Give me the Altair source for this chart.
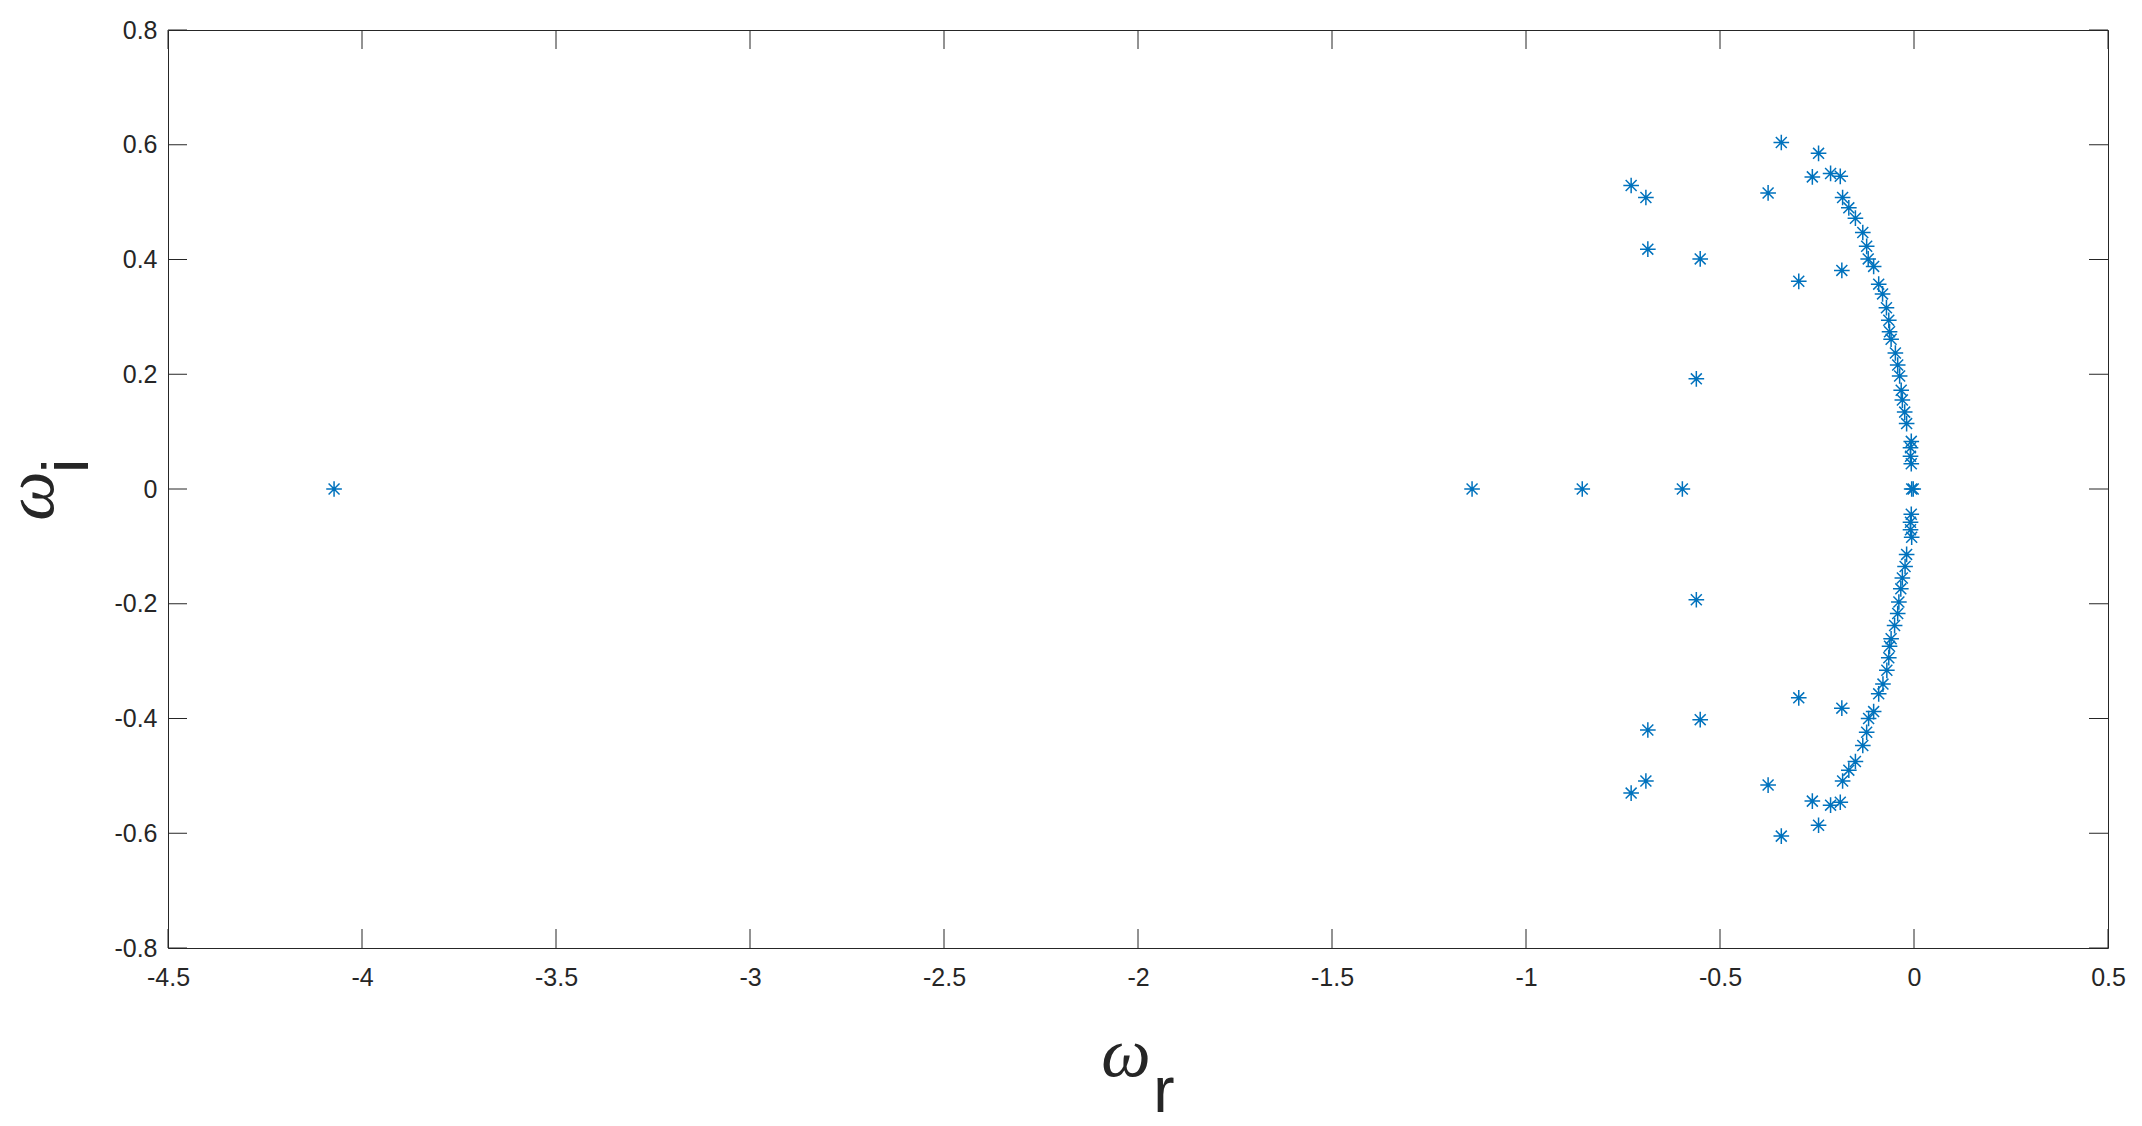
import altair as alt
import pandas as pd

wr_upper = [-0.342, -0.246, -0.262, -0.215, -0.190, -0.729, -0.691, -0.376, -0.184, -0.168,
            -0.151, -0.132, -0.122, -0.118, -0.104, -0.686, -0.551, -0.186, -0.297, -0.091,
            -0.081, -0.071, -0.065, -0.063, -0.059, -0.048, -0.042, -0.037, -0.033, -0.030,
            -0.024, -0.019, -0.007, -0.009, -0.009, -0.007, -0.561]
wi_upper = [0.604, 0.585, 0.544, 0.550, 0.545, 0.529, 0.508, 0.516, 0.508, 0.490,
            0.472, 0.447, 0.423, 0.401, 0.388, 0.418, 0.401, 0.381, 0.362, 0.357,
            0.340, 0.316, 0.294, 0.274, 0.261, 0.237, 0.216, 0.197, 0.172, 0.155,
            0.134, 0.114, 0.083, 0.072, 0.057, 0.044, 0.192]

wr_axis = [-4.072, -1.139, -0.855, -0.597, -0.006, -0.002]
wi_axis = [0.0, 0.0, 0.0, 0.0, 0.0, 0.0]

wr_lower = [-0.342, -0.246, -0.262, -0.215, -0.190, -0.729, -0.691, -0.376, -0.184, -0.168,
            -0.151, -0.132, -0.122, -0.117, -0.104, -0.686, -0.551, -0.186, -0.297, -0.091,
            -0.080, -0.070, -0.065, -0.063, -0.059, -0.050, -0.042, -0.039, -0.034, -0.030,
            -0.023, -0.019, -0.006, -0.009, -0.009, -0.007, -0.561]
wi_lower = [-0.605, -0.586, -0.544, -0.551, -0.546, -0.530, -0.509, -0.516, -0.509, -0.490,
            -0.475, -0.447, -0.424, -0.400, -0.388, -0.420, -0.402, -0.382, -0.364, -0.357,
            -0.340, -0.316, -0.294, -0.274, -0.261, -0.238, -0.217, -0.197, -0.174, -0.155,
            -0.135, -0.114, -0.084, -0.071, -0.058, -0.044, -0.193]

x_ticks = [-4.5, -4, -3.5, -3, -2.5, -2, -1.5, -1, -0.5, 0, 0.5]
y_ticks = [-0.8, -0.6, -0.4, -0.2, 0, 0.2, 0.4, 0.6, 0.8]

W, H = 1940, 918
TICK = 19
AX = "#262626"
BLUE = "#0072BD"

df = pd.DataFrame({
    "wr": wr_upper + wr_axis + wr_lower,
    "wi": wi_upper + wi_axis + wi_lower,
})
xt = pd.DataFrame({"wr": x_ticks})
yt = pd.DataFrame({"wi": y_ticks})

xscale = alt.Scale(domain=[-4.5, 0.5], nice=False, zero=False)
yscale = alt.Scale(domain=[-0.8, 0.8], nice=False, zero=False)

label_expr = "'' + datum.value"
xaxis = alt.Axis(
    values=x_ticks, title=None, domain=False, ticks=False, grid=False,
    labelFont="Liberation Sans", labelFontSize=25, labelColor=AX,
    labelPadding=17, labelExpr=label_expr, labelFlush=False)
yaxis = alt.Axis(
    values=y_ticks, title=None, domain=False, ticks=False, grid=False,
    labelFont="Liberation Sans", labelFontSize=25, labelColor=AX,
    labelPadding=11, labelExpr=label_expr, labelFlush=False)

asterisk = "M-1,0H1M0,-1V1M-0.7,-0.7L0.7,0.7M-0.7,0.7L0.7,-0.7"

points = alt.Chart(df).mark_point(
    shape=asterisk, size=245, filled=False, stroke=BLUE, strokeWidth=1.5, opacity=1
).encode(
    x=alt.X("wr:Q", scale=xscale, axis=xaxis),
    y=alt.Y("wi:Q", scale=yscale, axis=yaxis),
)

tick_style = dict(color=AX, strokeWidth=1)
xb = alt.Chart(xt).mark_rule(**tick_style).encode(
    x=alt.X("wr:Q", scale=xscale, axis=xaxis), y=alt.value(H), y2=alt.value(H - TICK))
xtp = alt.Chart(xt).mark_rule(**tick_style).encode(
    x=alt.X("wr:Q", scale=xscale, axis=xaxis), y=alt.value(0), y2=alt.value(TICK))
yl = alt.Chart(yt).mark_rule(**tick_style).encode(
    y=alt.Y("wi:Q", scale=yscale, axis=yaxis), x=alt.value(0), x2=alt.value(TICK))
yr = alt.Chart(yt).mark_rule(**tick_style).encode(
    y=alt.Y("wi:Q", scale=yscale, axis=yaxis), x=alt.value(W), x2=alt.value(W - TICK))

one = pd.DataFrame({"k": [0]})
x_omega = alt.Chart(one).mark_text(
    text="ω", font="Liberation Serif", fontStyle="italic", fontSize=70, color=AX,
    align="center", baseline="alphabetic"
).encode(x=alt.value(958), y=alt.value(H + 128))
x_sub = alt.Chart(one).mark_text(
    text="r", font="Liberation Sans", fontSize=64, color=AX,
    align="center", baseline="alphabetic"
).encode(x=alt.value(996), y=alt.value(H + 164))
y_omega = alt.Chart(one).mark_text(
    text="ω", font="Liberation Serif", fontStyle="italic", fontSize=70, color=AX,
    align="center", baseline="alphabetic", angle=270
).encode(x=alt.value(-115), y=alt.value(466))
y_sub = alt.Chart(one).mark_text(
    text="i", font="Liberation Sans", fontSize=64, color=AX,
    align="center", baseline="alphabetic", angle=270
).encode(x=alt.value(-80), y=alt.value(436))

chart = alt.layer(
    points, xb, xtp, yl, yr, x_omega, x_sub, y_omega, y_sub
).properties(
    width=W, height=H,
    autosize=alt.AutoSizeParams(type="none"),
    padding={"left": 160, "top": 22, "right": 20, "bottom": 170},
    background="white",
).configure_view(
    stroke=AX, strokeWidth=1
)

chart.save("out.html", embed_options={"renderer": "svg", "actions": False})
